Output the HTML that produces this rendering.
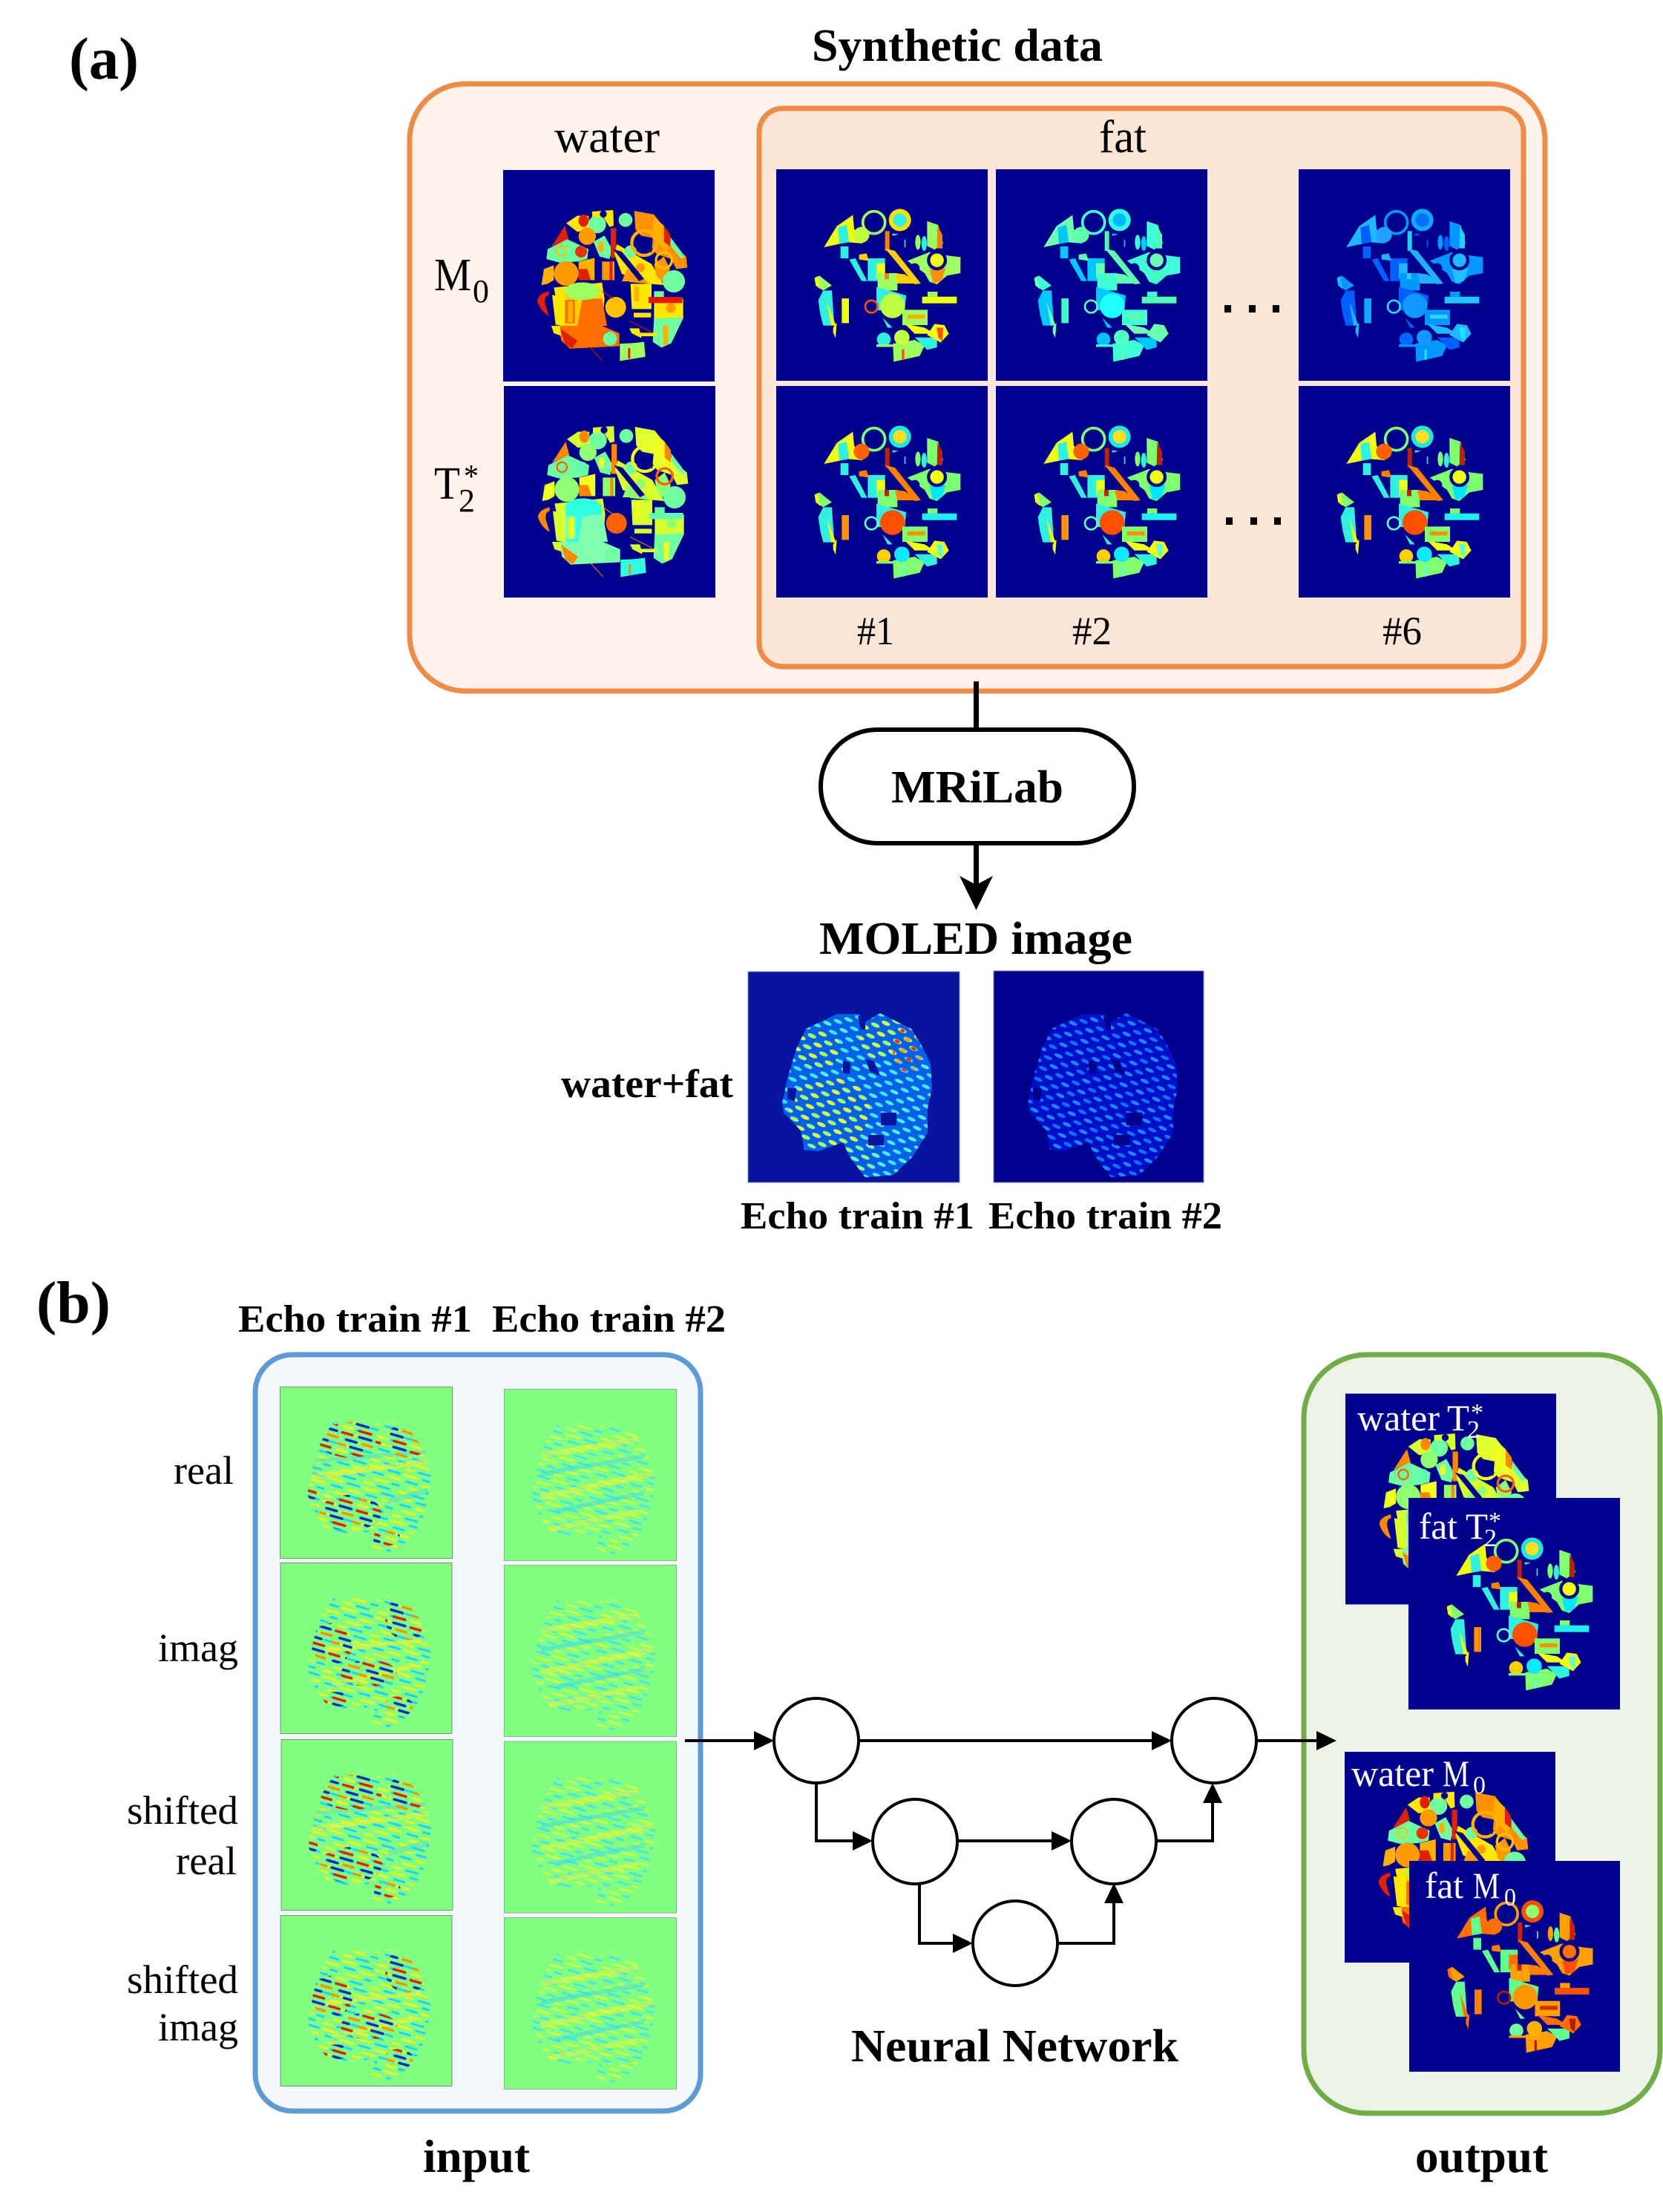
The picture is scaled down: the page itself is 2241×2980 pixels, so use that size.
<!DOCTYPE html>
<html><head><meta charset="utf-8"><style>
html,body{margin:0;padding:0;background:#fff}
svg{display:block}
text{font-family:"Liberation Serif",serif;fill:#000}
.b{font-weight:700}
.w{fill:#fff}
.n{fill:#00008c}
.wm{--a:#ff9a00;--b:#ffe800;--c:#70ffa0;--d:#e02000;--e:#ff7000;--f:#a0ff60;--g:#ffd000;--h:#e81800;--i:#ffc000;--j:#ff9000;--k:#e83000;--l:#ffb000}
.wt{--a:#90ff70;--b:#d8ff30;--c:#70ffa0;--d:#ff8800;--e:#80ffb0;--f:#30ffe0;--g:#30ffe0;--h:#60ffb0;--i:#ff6000;--j:#e0ff30;--k:#60ffb0;--l:#f0ff20}
.fm1{--a:#a0ff60;--b:#f0ff10;--c:#30f0e0;--d:#ff8000;--e:#c0ff40;--k:#c0ff40;--l:#ffe000;--m:#30f0e0;--n:#ff9000;--o:#ffd000;--p:#f0ff10;--q:#30f0e0;--r:#c0ff40;--s:#f0ff10;--t:#ffb000;--u:#ff5000}
.fm2{--a:#40ffd8;--b:#70ffb0;--c:#00c8ff;--d:#50ffa8;--e:#20ffff;--k:#60ffb0;--l:#30ffe0;--m:#00b8ff;--n:#40ffc0;--o:#60ffb0;--p:#50ffb0;--q:#00c0ff;--r:#50ffc0;--s:#40ffc0;--t:#60ffa0;--u:#60ffb0}
.fm6{--a:#0098ff;--b:#20b8ff;--c:#0060ff;--d:#20d0ff;--e:#1098ff;--k:#20a0ff;--l:#10a8ff;--m:#0070f8;--n:#20c0ff;--o:#20b0ff;--p:#20c8ff;--q:#0068ff;--r:#1098ff;--s:#10a8ff;--t:#30d8ff;--u:#20e0ff}
.ft{--a:#80ff70;--b:#f0ff10;--c:#30f0e0;--d:#c02000;--e:#ff5000;--k:#ff6000;--l:#20e8e0;--m:#ffe020;--n:#00e8ff;--o:#ff8000;--p:#20f0f0;--q:#ffd000;--r:#10e8ff;--s:#ff9000;--t:#ff9000;--u:#60ffd0}
.fo{--a:#ffa000;--b:#ff7000;--c:#60ff90;--d:#d02000;--e:#ff9800;--k:#ff7000;--l:#ff5000;--m:#90ff70;--n:#ff5000;--o:#ff8000;--p:#ff5000;--q:#70ffa0;--r:#ffb000;--s:#ff8000;--t:#d03000;--u:#b02000}
</style></head><body>
<svg xmlns="http://www.w3.org/2000/svg" width="2241" height="2980" viewBox="0 0 2241 2980">
<defs>
<clipPath id="nc"><path d="M72 48L100 47L122 52L145 46L175 58L195 85L204 115L200 150L190 185L170 210L140 227L125 215L128 195L100 198L65 195L50 175L37 145L45 105L55 75Z"/></clipPath>
<clipPath id="mc"><path d="M78 77L120 57L150 57L154 70L178 56L220 77L231 94L246 124L248 157L242 184L242 217L221 250L196 274L158 277L137 250L128 230L95 242L76 240L71 214L48 190L46 177L53 144L65 104Z"/></clipPath>

<symbol id="water" viewBox="0 0 855 855">
<rect width="855" height="855" class="n"/>
<polygon points="255,215 300,185 345,185 350,240 300,250" style="fill:var(--b)"/>
<ellipse cx="325" cy="205" rx="20" ry="25" style="fill:var(--d)"/>
<circle cx="380" cy="220" r="36" style="fill:var(--c)"/>
<polygon points="360,168 445,162 447,225 430,230 405,190 360,190" style="fill:var(--b)"/>
<circle cx="405" cy="178" r="14" class="n"/>
<circle cx="495" cy="202" r="28" style="fill:var(--c)"/>
<polygon points="530,165 610,180 665,250 680,300 740,350 745,395 700,400 680,360 620,340 590,300 535,240" style="fill:var(--j)"/>
<polygon points="610,190 650,225 675,300 660,330 600,270" style="fill:var(--l)"/>
<polygon points="650,225 675,260 675,310 650,290" style="fill:var(--d)"/>
<polygon points="195,310 250,225 265,280" style="fill:var(--d)"/>
<polygon points="175,360 180,320 260,280 345,320 340,360 300,370 230,375" style="fill:var(--c)"/>
<ellipse cx="340" cy="268" rx="35" ry="35" style="fill:var(--a)"/>
<circle cx="235" cy="328" r="20" fill="none" style="stroke:var(--i)" stroke-width="7"/>
<circle cx="315" cy="330" r="24" style="fill:var(--k)"/>
<circle cx="255" cy="418" r="50" style="fill:var(--a)"/>
<polygon points="155,465 165,400 205,385 205,445 180,460" style="fill:var(--l)"/>
<polygon points="305,370 370,355 370,445 305,445" style="fill:var(--l)"/>
<polygon points="305,400 340,400 355,445 305,445" style="fill:var(--d)"/>
<polygon points="365,290 410,265 440,320 430,360 390,350" style="fill:var(--c)"/>
<ellipse cx="395" cy="310" rx="12" ry="22" style="fill:var(--l)"/>
<rect x="435" y="235" width="22" height="120" style="fill:var(--d)"/>
<rect x="370" y="355" width="30" height="92" class="n"/>
<rect x="400" y="370" width="50" height="75" style="fill:var(--a)"/>
<rect x="430" y="370" width="12" height="75" style="fill:var(--d)"/>
<polygon points="460,300 530,340 600,380 650,465 590,460 480,420 450,340" style="fill:var(--b)"/>
<polygon points="500,400 560,430 590,460 480,450" style="fill:var(--a)"/>
<circle cx="555" cy="395" r="18" style="fill:var(--a)"/>
<polygon points="445,320 480,330 570,440 550,450" class="n"/>
<circle cx="515" cy="330" r="25" style="fill:var(--c)"/>
<circle cx="570" cy="295" r="50" fill="none" style="stroke:var(--l)" stroke-width="13"/>
<polygon points="555,265 605,275 600,335 570,310" class="n"/>
<polygon points="610,380 650,350 675,400 650,455 620,430" style="fill:var(--a)"/>
<circle cx="650" cy="365" r="32" fill="none" style="stroke:var(--i)" stroke-width="10"/>
<polygon points="675,270 735,350 720,358 680,310" style="fill:var(--c)"/>
<circle cx="690" cy="450" r="45" style="fill:var(--c)"/>
<rect x="410" y="450" width="100" height="70" class="n"/>
<polygon points="205,475 400,455 410,520 400,630 235,630" style="fill:var(--b)"/>
<rect x="250" y="480" width="145" height="150" style="fill:var(--g)"/>
<polygon points="320,520 400,520 420,630 300,630" style="fill:var(--e)"/>
<rect x="250" y="525" width="40" height="95" style="fill:var(--e)"/>
<rect x="262" y="530" width="20" height="85" style="fill:var(--l)"/>
<ellipse cx="320" cy="490" rx="72" ry="36" style="fill:var(--f)"/>
<circle cx="455" cy="555" r="42" style="fill:var(--i)"/>
<polygon points="515,460 600,460 600,562 520,562" style="fill:var(--b)"/>
<rect x="530" y="470" width="20" height="60" style="fill:var(--l)"/>
<rect x="610" y="490" width="40" height="30" style="fill:var(--c)"/>
<rect x="610" y="520" width="118" height="80" style="fill:var(--b)"/>
<circle cx="678" cy="557" r="20" style="fill:var(--a)"/>
<rect x="588" y="513" width="137" height="25" style="fill:var(--h)"/>
<rect x="528" y="577" width="70" height="19" style="fill:var(--b)"/>
<polygon points="610,600 730,595 680,700 640,718 605,695" style="fill:var(--c)"/>
<polygon points="645,630 670,630 665,705 648,710" style="fill:var(--l)"/>
<polygon points="225,630 400,630 470,660 470,712 270,722 235,690" style="fill:var(--e)"/>
<polygon points="230,640 300,690 280,720 250,705" style="fill:var(--d)"/>
<polygon points="195,630 230,630 235,670 205,660" style="fill:var(--b)"/>
<circle cx="432" cy="682" r="28" style="fill:var(--c)"/>
<circle cx="505" cy="680" r="30" class="n"/>
<polygon points="510,640 550,640 560,680 520,660" style="fill:var(--b)"/>
<rect x="550" y="658" width="70" height="14" style="fill:var(--b)"/>
<polygon points="472,702 520,700 570,695 575,755 472,772" style="fill:var(--f)"/>
<rect x="505" y="720" width="9" height="42" style="fill:var(--d)"/>
<path d="M185 490Q140 500 138 530Q150 570 185 590L170 540Q165 510 185 505Z" style="fill:var(--d)"/>
<polygon points="198,505 225,510 235,630 212,625" style="fill:var(--b)"/>
<path d="M350 715L400 770M510 610L600 655M400 490L445 520" fill="none" stroke-width="3" style="stroke:var(--d)"/>
</symbol>

<symbol id="fatb" viewBox="0 0 855 855">
<rect width="855" height="855" class="n"/>
<polygon points="193,315 245,230 310,185 315,240 350,300 290,295" style="fill:var(--b)"/>
<polygon points="250,235 285,225 295,295 255,302" style="fill:var(--c)"/>
<circle cx="395" cy="215" r="45" fill="none" stroke-width="11" style="stroke:var(--a)"/>
<circle cx="345" cy="265" r="32" style="fill:var(--k)"/>
<circle cx="500" cy="205" r="45" style="fill:var(--l)"/>
<circle cx="500" cy="205" r="27" style="fill:var(--m)"/>
<polygon points="610,210 655,225 675,300 640,325 610,310" style="fill:var(--a)"/>
<polygon points="652,228 672,265 672,320 650,320" style="fill:var(--d)"/>
<ellipse cx="573" cy="295" rx="11" ry="30" style="fill:var(--a)"/>
<ellipse cx="598" cy="300" rx="11" ry="30" style="fill:var(--c)"/>
<rect x="518" y="285" width="5" height="30" style="fill:var(--c)"/>
<polygon points="530,370 620,335 700,350 745,355 745,420 690,430 650,465 620,455 600,420" style="fill:var(--a)"/>
<polygon points="620,405 685,400 670,450 635,462" style="fill:var(--n)"/>
<circle cx="560" cy="400" r="20" class="n"/>
<circle cx="650" cy="368" r="34" style="fill:var(--b);stroke:#00008c" stroke-width="13"/>
<rect x="440" y="250" width="18" height="80" style="fill:var(--d)"/>
<polygon points="440,320 480,330 585,462 560,465" style="fill:var(--o)"/>
<polygon points="470,260 495,262 470,270" style="fill:var(--c)"/>
<polygon points="370,360 440,360 440,452 370,452" style="fill:var(--c)"/>
<rect x="405" y="380" width="35" height="60" style="fill:var(--b)"/>
<polygon points="295,365 320,360 368,452 345,452" style="fill:var(--c)"/>
<rect x="260" y="312" width="32" height="48" style="fill:var(--c)"/>
<polygon points="335,345 365,340 375,370 335,365" style="fill:var(--o)"/>
<rect x="410" y="420" width="80" height="70" style="fill:var(--a)"/>
<rect x="438" y="420" width="18" height="25" style="fill:var(--d)"/>
<polygon points="480,420 520,425 575,462 490,462" style="fill:var(--o)"/>
<polygon points="405,475 525,510 520,570 405,570" style="fill:var(--c)"/>
<circle cx="470" cy="552" r="50" style="fill:var(--e)"/>
<circle cx="385" cy="555" r="25" fill="none" stroke-width="8" style="stroke:var(--u)"/>
<polygon points="155,440 175,430 225,470 190,490 160,470" style="fill:var(--a)"/>
<polygon points="155,440 168,432 178,485 160,470" style="fill:var(--b)"/>
<polygon points="170,530 190,490 225,490 235,632 190,632 178,585" style="fill:var(--c)"/>
<polygon points="205,535 242,632 222,632" style="fill:var(--b)"/>
<polygon points="230,640 245,620 240,682 230,660" style="fill:var(--b)"/>
<rect x="265" y="522" width="29" height="100" style="fill:var(--s)"/>
<rect x="590" y="515" width="140" height="27" style="fill:var(--p)"/>
<rect x="612" y="495" width="40" height="20" style="fill:var(--a)"/>
<rect x="510" y="568" width="102" height="62" style="fill:var(--a)"/>
<rect x="530" y="588" width="72" height="16" style="fill:var(--t)"/>
<polygon points="430,600 470,640 450,640" style="fill:var(--c)"/>
<polygon points="520,625 600,640 640,665 560,665" style="fill:var(--b)"/>
<circle cx="435" cy="688" r="28" style="fill:var(--q)"/>
<rect x="405" y="708" width="70" height="10" style="fill:var(--a)"/>
<polygon points="472,705 560,690 600,712 580,755 475,778" style="fill:var(--a)"/>
<polygon points="560,680 650,680 650,720 610,730" style="fill:var(--c)"/>
<circle cx="508" cy="680" r="31" style="fill:var(--r)"/>
<rect x="508" y="728" width="10" height="42" style="fill:var(--u)"/>
<polygon points="610,670 640,625 680,630 698,665 665,700" style="fill:var(--b)"/>
<polygon points="648,640 675,640 672,695 655,680" style="fill:var(--u)"/>
</symbol>

<pattern id="p1" width="48" height="32" patternUnits="userSpaceOnUse" patternTransform="rotate(16)">
<g stroke-width="3" stroke-linecap="round">
<path d="M2 4H20M2 28H12M30 12H46M14 20H30" stroke="#f0f020"/>
<path d="M28 4H44M8 12H22M38 20H47M20 28H36" stroke="#20d0ff"/>
</g></pattern>
<pattern id="p1s" width="48" height="32" patternUnits="userSpaceOnUse" patternTransform="rotate(16)">
<g stroke-width="3.6" stroke-linecap="round">
<path d="M2 4H16M24 28H40" stroke="#e02000"/>
<path d="M26 4H42M10 12H24M18 20H34" stroke="#0828d0"/>
<path d="M32 12H46M1 20H10" stroke="#ff9000"/>
<path d="M2 28H14" stroke="#f0f020"/>
</g></pattern>
<pattern id="p2" width="48" height="32" patternUnits="userSpaceOnUse" patternTransform="rotate(16)">
<g stroke-width="2.6" stroke-linecap="round">
<path d="M2 4H20M2 28H12M30 12H46M14 20H30" stroke="#d8ff40"/>
<path d="M28 4H44M8 12H22M38 20H47M20 28H36" stroke="#40e0f8"/>
</g></pattern>
<pattern id="pm" width="24" height="16" patternUnits="userSpaceOnUse" patternTransform="rotate(24)">
<ellipse cx="6" cy="4" rx="6" ry="2.4" fill="#50f0e0"/>
<ellipse cx="18" cy="12" rx="6" ry="2.4" fill="#40e8f0"/>
</pattern>
<pattern id="pmy" width="24" height="16" patternUnits="userSpaceOnUse" patternTransform="rotate(24)">
<ellipse cx="6" cy="4" rx="6" ry="2.6" fill="#d8ff40"/>
<ellipse cx="18" cy="12" rx="6" ry="2.6" fill="#a8ff60"/>
</pattern>
<pattern id="pmr" width="24" height="16" patternUnits="userSpaceOnUse" patternTransform="rotate(24)">
<ellipse cx="6" cy="4" rx="4" ry="2.2" fill="#e83000"/>
<ellipse cx="18" cy="12" rx="4" ry="2.2" fill="#ffa000"/>
</pattern>
<pattern id="pn" width="24" height="16" patternUnits="userSpaceOnUse" patternTransform="rotate(24)">
<ellipse cx="6" cy="4" rx="6" ry="2.4" fill="#2088ff"/>
<ellipse cx="18" cy="12" rx="6" ry="2.4" fill="#1470f8"/>
</pattern>

<symbol id="n1" viewBox="0 0 233 232">
<rect x=".5" y=".5" width="232" height="231" fill="#80ff80" stroke="#7d907d"/>
<g clip-path="url(#nc)">
<rect width="233" height="232" fill="url(#p1)"/>
<path d="M40 122L205 100" stroke="#e8f040" stroke-width="7" opacity=".6"/>
<path d="M45 100L200 88" stroke="#30d8f0" stroke-width="5" opacity=".4"/>
<path d="M145 155L200 140" stroke="#30d8f0" stroke-width="8" opacity=".4"/>
<ellipse cx="95" cy="72" rx="42" ry="24" fill="url(#p1s)"/>
<ellipse cx="172" cy="72" rx="28" ry="24" fill="url(#p1s)"/>
<ellipse cx="95" cy="170" rx="42" ry="24" fill="url(#p1s)"/>
<ellipse cx="142" cy="203" rx="20" ry="12" fill="url(#p1s)"/>
<ellipse cx="42" cy="145" rx="8" ry="8" fill="url(#p1s)"/>
</g></symbol>
<symbol id="n1i" viewBox="0 0 233 232">
<rect x=".5" y=".5" width="232" height="231" fill="#80ff80" stroke="#7d907d"/>
<g clip-path="url(#nc)">
<rect width="233" height="232" fill="url(#p1)"/>
<path d="M60 120L190 105M70 165L180 140" stroke="#e8f040" stroke-width="6" opacity=".6"/>
<ellipse cx="172" cy="75" rx="30" ry="30" fill="url(#p1s)"/>
<ellipse cx="70" cy="110" rx="28" ry="28" fill="url(#p1s)"/>
<ellipse cx="120" cy="150" rx="38" ry="18" fill="url(#p1s)"/>
<ellipse cx="75" cy="185" rx="22" ry="10" fill="url(#p1s)"/>
<ellipse cx="160" cy="195" rx="20" ry="14" fill="url(#p1s)"/>
</g></symbol>
<symbol id="n2" viewBox="0 0 233 232">
<rect x=".5" y=".5" width="232" height="231" fill="#80ff80" stroke="#95ab95"/>
<g clip-path="url(#nc)">
<rect width="233" height="232" fill="url(#p2)"/>
<path d="M45 90L200 65M50 145L200 115M60 190L180 165" stroke="#e8f040" stroke-width="7" opacity=".55"/>
<path d="M50 115L190 90M70 165L190 140" stroke="#30d8f8" stroke-width="6" opacity=".5"/>
</g></symbol>
</defs>

<rect width="2241" height="2980" fill="#fff"/>

<!-- (a) -->
<text x="93" y="106" font-size="80" class="b" textLength="94" lengthAdjust="spacingAndGlyphs">(a)</text>
<text x="1094" y="82" font-size="62" class="b" textLength="392" lengthAdjust="spacingAndGlyphs">Synthetic data</text>
<rect x="552" y="113" width="1530" height="818" rx="75" fill="#fdf3ec" stroke="#ed8b47" stroke-width="7"/>
<rect x="1023" y="146" width="1030" height="752" rx="32" fill="#fbe5d6" stroke="#ed8b47" stroke-width="7"/>
<text x="747" y="205" font-size="62" textLength="142" lengthAdjust="spacingAndGlyphs">water</text>
<text x="1481" y="205" font-size="62" textLength="64" lengthAdjust="spacingAndGlyphs">fat</text>
<text x="585" y="391" font-size="62" textLength="50" lengthAdjust="spacingAndGlyphs">M</text>
<text x="637" y="407" font-size="44" textLength="22" lengthAdjust="spacingAndGlyphs">0</text>
<text x="585" y="672" font-size="62" textLength="35" lengthAdjust="spacingAndGlyphs">T</text>
<text x="618" y="689" font-size="44" textLength="22" lengthAdjust="spacingAndGlyphs">2</text>
<text x="625" y="656" font-size="44" textLength="20" lengthAdjust="spacingAndGlyphs">*</text>

<use href="#water" x="678" y="229" width="285" height="285" class="wm"/>
<use href="#water" x="679" y="520" width="285" height="285" class="wt"/>

<use href="#fatb" x="1046" y="228" width="285" height="285" class="fm1"/>
<use href="#fatb" x="1342" y="228" width="285" height="285" class="fm2"/>
<use href="#fatb" x="1750" y="228" width="285" height="285" class="fm6"/>
<use href="#fatb" x="1046" y="520" width="285" height="285" class="ft"/>
<use href="#fatb" x="1342" y="520" width="285" height="285" class="ft"/>
<use href="#fatb" x="1750" y="520" width="285" height="285" class="ft"/>

<g fill="#000"><rect x="1650" y="411" width="9" height="10"/><rect x="1683" y="411" width="9" height="10"/><rect x="1715" y="411" width="9" height="10"/>
<rect x="1652" y="697" width="9" height="10"/><rect x="1685" y="697" width="9" height="10"/><rect x="1717" y="697" width="9" height="10"/></g>
<text x="1155" y="868" font-size="54" textLength="50" lengthAdjust="spacingAndGlyphs">#1</text>
<text x="1445" y="868" font-size="54" textLength="53" lengthAdjust="spacingAndGlyphs">#2</text>
<text x="1863" y="868" font-size="54" textLength="53" lengthAdjust="spacingAndGlyphs">#6</text>

<rect x="1312" y="918" width="7" height="64" fill="#000"/>
<rect x="1106" y="983" width="422" height="153" rx="76" fill="#fff" stroke="#000" stroke-width="6"/>
<text x="1201" y="1081" font-size="62" class="b" textLength="232" lengthAdjust="spacingAndGlyphs">MRiLab</text>
<rect x="1312" y="1136" width="7" height="60" fill="#000"/>
<polygon points="1315.5,1226 1293,1180 1315.5,1192 1338,1180" fill="#000"/>
<text x="1104" y="1285" font-size="62" class="b" textLength="422" lengthAdjust="spacingAndGlyphs">MOLED image</text>

<rect x="1008" y="1309" width="285" height="284" fill="#0814a0" stroke="#8088b0" stroke-width="1"/>
<g transform="translate(1008 1309)"><g clip-path="url(#mc)">
<rect width="285" height="285" fill="#0860e8"/><rect width="285" height="285" fill="url(#pm)"/>
<ellipse cx="110" cy="190" rx="55" ry="50" fill="url(#pmy)"/>
<ellipse cx="190" cy="90" rx="40" ry="30" fill="url(#pmy)"/>
<ellipse cx="95" cy="105" rx="30" ry="25" fill="url(#pmy)"/>
<ellipse cx="215" cy="105" rx="20" ry="30" fill="url(#pmr)"/>
<ellipse cx="145" cy="250" rx="30" ry="28" fill="url(#pmy)" opacity=".5"/>
<path d="M128 120l10 2-1 16-9-2zM158 117l12 4 8 19-14-6zM179 190h21v17h-21zM162 220h21v14h-21zM53 157h12l-2 18-10-4zM148 60l10 0 0 18-6 0z" fill="#0814a0"/>
</g></g>
<rect x="1339" y="1308" width="283" height="285" fill="#00008c" stroke="#8088b0" stroke-width="1"/>
<g transform="translate(1339 1309)"><g clip-path="url(#mc)">
<rect width="285" height="285" fill="#0010c8"/><rect width="285" height="285" fill="url(#pn)"/>
<path d="M128 120l10 2-1 16-9-2zM158 117l12 4 8 19-14-6zM179 190h21v17h-21zM162 220h21v14h-21zM53 157h12l-2 18-10-4zM148 60l10 0 0 18-6 0z" fill="#00008c"/>
</g></g>
<text x="756" y="1478" font-size="54" class="b" textLength="232" lengthAdjust="spacingAndGlyphs">water+fat</text>
<text x="998" y="1655" font-size="52" class="b" textLength="315" lengthAdjust="spacingAndGlyphs">Echo train #1</text>
<text x="1332" y="1655" font-size="52" class="b" textLength="315" lengthAdjust="spacingAndGlyphs">Echo train #2</text>

<!-- (b) -->
<text x="49" y="1782" font-size="80" class="b" textLength="100" lengthAdjust="spacingAndGlyphs">(b)</text>
<text x="321" y="1794" font-size="52" class="b" textLength="315" lengthAdjust="spacingAndGlyphs">Echo train #1</text>
<text x="663" y="1794" font-size="52" class="b" textLength="315" lengthAdjust="spacingAndGlyphs">Echo train #2</text>
<text x="234" y="1999" font-size="54" textLength="81" lengthAdjust="spacingAndGlyphs">real</text>
<text x="213" y="2238" font-size="54" textLength="108" lengthAdjust="spacingAndGlyphs">imag</text>
<text x="171" y="2457" font-size="54" textLength="150" lengthAdjust="spacingAndGlyphs">shifted</text>
<text x="237" y="2525" font-size="54" textLength="82" lengthAdjust="spacingAndGlyphs">real</text>
<text x="171" y="2685" font-size="54" textLength="150" lengthAdjust="spacingAndGlyphs">shifted</text>
<text x="213" y="2749" font-size="54" textLength="108" lengthAdjust="spacingAndGlyphs">imag</text>

<rect x="344" y="1825" width="600" height="1019" rx="50" fill="#f2f7fb" stroke="#5f9bd3" stroke-width="7"/>
<use href="#n1" x="377" y="1868" width="233" height="232"/>
<use href="#n1i" x="377" y="2105" width="233" height="231"/>
<use href="#n1" x="378" y="2343" width="233" height="231"/>
<use href="#n1i" x="377" y="2580" width="233" height="231"/>
<use href="#n2" x="679" y="1871" width="233" height="232"/>
<use href="#n2" x="679" y="2108" width="233" height="232"/>
<use href="#n2" x="679" y="2345" width="233" height="233"/>
<use href="#n2" x="679" y="2582" width="233" height="234"/>

<text x="570" y="2926" font-size="62" class="b" textLength="144" lengthAdjust="spacingAndGlyphs">input</text>
<text x="1907" y="2926" font-size="62" class="b" textLength="179" lengthAdjust="spacingAndGlyphs">output</text>
<text x="1147" y="2777" font-size="62" class="b" textLength="441" lengthAdjust="spacingAndGlyphs">Neural Network</text>

<rect x="1757" y="1825" width="480" height="1022" rx="85" fill="#edf3e6" stroke="#70ad47" stroke-width="7"/>

<g fill="none" stroke="#000" stroke-width="4">
<path d="M923 2345H1020"/>
<path d="M1157 2345H1555"/>
<path d="M1100 2402V2480H1155"/>
<path d="M1290 2480H1420"/>
<path d="M1239 2534V2618H1288"/>
<path d="M1425 2618H1501V2560"/>
<path d="M1558 2480H1634V2425"/>
<path d="M1693 2345H1776"/>
<circle cx="1100" cy="2345" r="57" fill="#fff"/>
<circle cx="1636" cy="2345" r="57" fill="#fff"/>
<circle cx="1233" cy="2481" r="57" fill="#fff"/>
<circle cx="1501" cy="2481" r="57" fill="#fff"/>
<circle cx="1368" cy="2618" r="57" fill="#fff"/>
</g>
<g fill="#000">
<polygon points="1043,2345 1016,2332 1016,2358"/>
<polygon points="1579,2345 1552,2332 1552,2358"/>
<polygon points="1176,2480 1149,2467 1149,2493"/>
<polygon points="1444,2480 1417,2467 1417,2493"/>
<polygon points="1311,2618 1284,2605 1284,2631"/>
<polygon points="1501,2537 1488,2564 1514,2564"/>
<polygon points="1634,2402 1621,2429 1647,2429"/>
<polygon points="1801,2345 1774,2332 1774,2358"/>
</g>

<use href="#water" x="1813" y="1877" width="284" height="285" class="wt"/>
<text x="1829" y="1927" font-size="50" class="w" textLength="111" lengthAdjust="spacingAndGlyphs">water</text>
<text x="1950" y="1927" font-size="50" class="w" textLength="30" lengthAdjust="spacingAndGlyphs">T</text>
<text x="1977" y="1937" font-size="34" class="w" textLength="17" lengthAdjust="spacingAndGlyphs">2</text>
<text x="1982" y="1914" font-size="34" class="w" textLength="17" lengthAdjust="spacingAndGlyphs">*</text>
<use href="#fatb" x="1898" y="2018" width="285" height="285" class="ft"/>
<text x="1912" y="2073" font-size="50" class="w" textLength="52" lengthAdjust="spacingAndGlyphs">fat</text>
<text x="1975" y="2073" font-size="50" class="w" textLength="30" lengthAdjust="spacingAndGlyphs">T</text>
<text x="2000" y="2083" font-size="34" class="w" textLength="17" lengthAdjust="spacingAndGlyphs">2</text>
<text x="2006" y="2060" font-size="34" class="w" textLength="17" lengthAdjust="spacingAndGlyphs">*</text>
<use href="#water" x="1812" y="2360" width="284" height="284" class="wm"/>
<text x="1821" y="2406" font-size="50" class="w" textLength="111" lengthAdjust="spacingAndGlyphs">water</text>
<text x="1944" y="2406" font-size="50" class="w" textLength="36" lengthAdjust="spacingAndGlyphs">M</text>
<text x="1985" y="2416" font-size="34" class="w" textLength="17" lengthAdjust="spacingAndGlyphs">0</text>
<use href="#fatb" x="1899" y="2507" width="284" height="284" class="fo"/>
<text x="1920" y="2557" font-size="50" class="w" textLength="52" lengthAdjust="spacingAndGlyphs">fat</text>
<text x="1985" y="2557" font-size="50" class="w" textLength="36" lengthAdjust="spacingAndGlyphs">M</text>
<text x="2027" y="2567" font-size="34" class="w" textLength="16" lengthAdjust="spacingAndGlyphs">0</text>
</svg>
</body></html>
